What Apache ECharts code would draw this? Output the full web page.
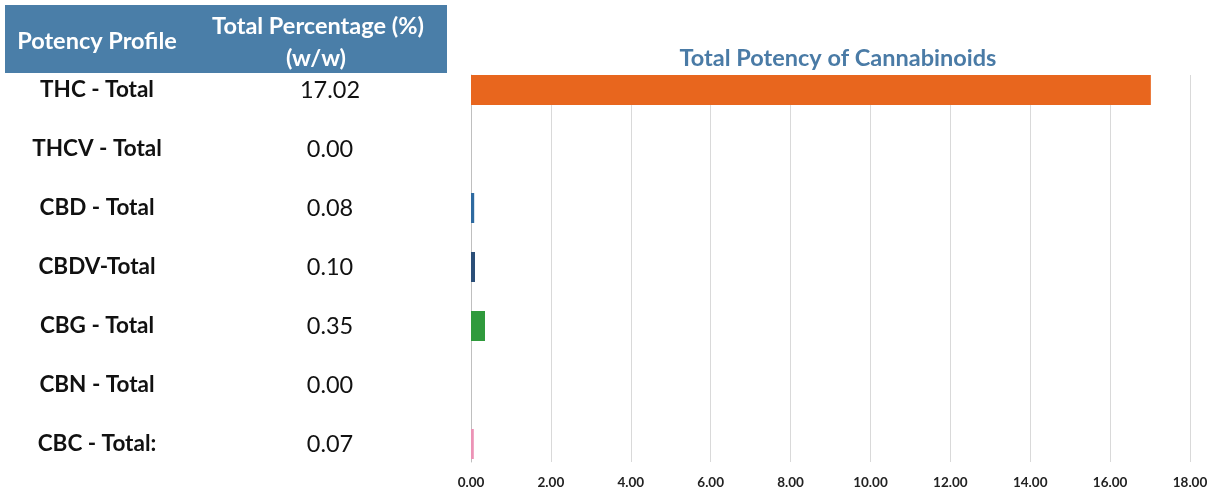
<!DOCTYPE html>
<html><head><meta charset="utf-8">
<script src="https://cdn.jsdelivr.net/npm/echarts@6/dist/echarts.min.js"></script>
<style>html,body{margin:0;padding:0;background:#fff;}#c{width:1212px;height:493px;}</style>
</head><body><div id="c"></div>
<script>
const categories = ['THC - Total','THCV - Total','CBD - Total','CBDV-Total','CBG - Total','CBN - Total','CBC - Total:'];
const values = [17.02, 0.00, 0.08, 0.10, 0.35, 0.00, 0.07];
const barColors = ['#e8661e','#4a7ba6','#2e6aa0','#2b4f78','#2f9a3c','#c0504d','#ec93b6'];
const xTicks = [0,2,4,6,8,10,12,14,16,18];
const headers = ['Potency Profile','Total Percentage (%)','(w/w)'];
const chartTitle = 'Total Potency of Cannabinoids';

const FONT = 'Lato';
const chart = echarts.init(document.getElementById('c'), null, {renderer:'canvas'});
chart.setOption({
  backgroundColor:'#ffffff',
  animation:false,
  grid:[
    {left:471, right:22, top:60.5, height:413, containLabel:false},
    {left:471, right:22, top:75, bottom:31, containLabel:false}
  ],
  xAxis:[
    {gridIndex:0, type:'value', min:0, max:18, interval:2, show:false},
    {gridIndex:1, type:'value', min:0, max:18, interval:2,
     axisLine:{show:false}, axisTick:{show:false},
     splitLine:{show:true, lineStyle:{color:'#d9d9d9', width:1}},
     axisLabel:{margin:14, color:'#222', fontFamily:FONT, fontWeight:'bold', fontSize:13.5,
       formatter:v=>v.toFixed(2)}}
  ],
  yAxis:[
    {gridIndex:0, type:'category', data:categories, inverse:true,
     axisLine:{show:false}, axisTick:{show:false}, splitLine:{show:false},
     axisLabel:{margin:81, align:'right',
       formatter:(name, idx)=>'{n|'+name+'}{s|}{v|'+values[idx].toFixed(2)+'}',
       rich:{
         n:{width:194, align:'center', fontFamily:FONT, fontWeight:'bold', fontSize:22.5, color:'#111'},
         s:{width:76},
         v:{width:120, align:'center', fontFamily:FONT, fontSize:23.5, color:'#111'}
       }}},
    {gridIndex:1, type:'value', min:0, max:1, show:true,
     axisLine:{show:true, lineStyle:{color:'#bfbfbf', width:1}}, axisTick:{show:false},
     axisLabel:{show:false}, splitLine:{show:false}}
  ],
  series:[{
    type:'bar', xAxisIndex:0, yAxisIndex:0, barWidth:30,
    data: values.map((v,i)=>({value:v, itemStyle:{color:barColors[i]}})),
    z:5
  }],
  graphic:[
    {type:'rect', shape:{x:5, y:5, width:442, height:68}, style:{fill:'#4a7ea8'}, z:1},
    {type:'text', x:97, y:41, style:{text:headers[0], fill:'#fff', font:'bold 23.5px '+FONT, textAlign:'center', textVerticalAlign:'middle'}, z:2},
    {type:'text', x:318, y:26, style:{text:headers[1], fill:'#fff', font:'bold 23.5px '+FONT, textAlign:'center', textVerticalAlign:'middle'}, z:2},
    {type:'text', x:316, y:58, style:{text:headers[2], fill:'#fff', font:'bold 23.5px '+FONT, textAlign:'center', textVerticalAlign:'middle'}, z:2},
    {type:'text', x:838, y:58, style:{text:chartTitle, fill:'#4a7ba6', font:'bold 23.5px '+FONT, textAlign:'center', textVerticalAlign:'middle'}, z:2}
  ]
});
</script></body></html>
